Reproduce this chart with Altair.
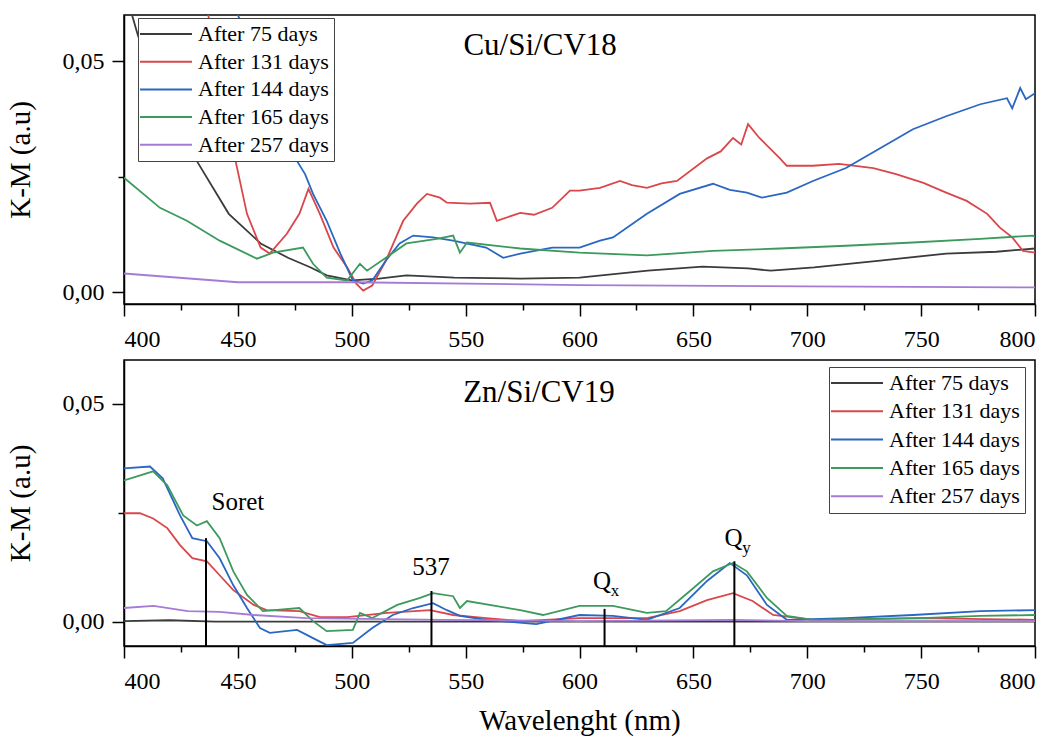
import altair as alt
import pandas as pd

FONT = "Liberation Serif, Times New Roman, serif"
SERIES = ["After 75 days", "After 131 days", "After 144 days", "After 165 days", "After 257 days"]
COLORS = ["#3b3b3b", "#d9474a", "#2a67c2", "#3d9a5e", "#a57bd6"]

# ---------------- Top panel: Cu/Si/CV18 ----------------
t_wl_75 = [400, 406, 412, 420, 432, 446, 460, 472, 482, 489, 500, 512, 524, 545, 574, 600, 630, 654, 674, 684, 703, 732, 761, 783, 800]
t_75 = [0.066, 0.0558, 0.047, 0.038, 0.0284, 0.017, 0.0106, 0.0075, 0.0054, 0.0037, 0.0026, 0.003, 0.0037, 0.0032, 0.003,
        0.0032, 0.0047, 0.0056, 0.0052, 0.0047, 0.0054, 0.0069, 0.0084, 0.0088, 0.0095]

t_wl_131 = [400, 420, 437, 449, 454, 460, 464, 471.5, 477, 481, 486, 492, 498, 502, 505, 509, 515, 522.6, 528.6, 533,
            538.7, 541.8, 552, 560.7, 563.7, 574, 580, 588, 595.8, 600, 609, 617.8, 623, 629.6, 636, 642.8, 656, 662,
            667.4, 671, 674, 679, 688, 691, 702.5, 714, 729, 739, 751, 761, 770, 779, 784.6, 790, 794.7, 800]
t_131 = [0.11, 0.085, 0.06, 0.0284, 0.017, 0.0097, 0.0084, 0.0127, 0.017, 0.0224, 0.017, 0.0097, 0.0054, 0.0019, 0.0004,
         0.0015, 0.0069, 0.0155, 0.0192, 0.0213, 0.0205, 0.0194, 0.0192, 0.0194, 0.0155, 0.0172, 0.0168, 0.0183, 0.022,
         0.022, 0.0226, 0.0241, 0.0232, 0.0226, 0.0236, 0.0241, 0.029, 0.0305, 0.0334, 0.032, 0.0364, 0.0334, 0.029,
         0.0274, 0.0274, 0.0278, 0.0269, 0.0256, 0.0237, 0.0216, 0.0198, 0.017, 0.014, 0.0119, 0.009, 0.0086]

t_wl_144 = [400, 430, 450, 476, 479.5, 483, 489, 495, 500.5, 505, 509, 515, 521, 527, 535.7, 544.5, 559, 566.5, 574, 588,
            600, 609, 614.7, 629.6, 644, 658.6, 666, 673.5, 680, 691, 702.5, 717, 732, 746.4, 761, 776, 787.7, 790,
            793.5, 796, 800]
t_144 = [0.12, 0.085, 0.06, 0.0284, 0.0256, 0.0213, 0.0155, 0.0084, 0.0026, 0.0019, 0.0026, 0.0069, 0.0106, 0.0123,
         0.0119, 0.0112, 0.0097, 0.0075, 0.0084, 0.0097, 0.0097, 0.0112, 0.0119, 0.017, 0.0213, 0.0235, 0.0222, 0.0216,
         0.0205, 0.0216, 0.0241, 0.0269, 0.0312, 0.0353, 0.0381, 0.0407, 0.042, 0.0398, 0.0442, 0.0418, 0.0431]

t_wl_165 = [400, 415.8, 427.6, 442, 458.4, 465.4, 478.6, 483, 489, 498, 503.6, 506.7, 515, 524, 537.4, 544.5, 547.5,
            550.6, 574, 600, 629.6, 658.6, 688, 717, 746.4, 776, 799, 800]
t_165 = [0.0248, 0.0183, 0.0155, 0.0112, 0.0073, 0.0086, 0.0097, 0.0062, 0.0032, 0.0026, 0.0062, 0.0047, 0.0075, 0.0106,
         0.0116, 0.0123, 0.0086, 0.0108, 0.0095, 0.0086, 0.008, 0.009, 0.0095, 0.0101, 0.0108, 0.0116, 0.0123, 0.012]

t_wl_257 = [400, 450, 500, 600, 700, 800]
t_257 = [0.0041, 0.0022, 0.0022, 0.0016, 0.0013, 0.0011]

# ---------------- Bottom panel: Zn/Si/CV19 ----------------
b_wl_75 = [400, 420, 440, 500, 600, 700, 800]
b_75 = [0.0002, 0.0004, 0.0001, 0.0001, 0.0001, 0.0001, 0.0001]

b_wl_131 = [400, 407, 412.8, 419, 424.6, 430, 436.4, 442, 448, 457, 462.6, 477, 486, 498, 515.5, 534.4, 544.5, 559, 574,
            600, 629.6, 644, 656, 667.4, 676, 685, 702.5, 750, 800]
b_131 = [0.0249, 0.0249, 0.0237, 0.0215, 0.0176, 0.0146, 0.0139, 0.0107, 0.0073, 0.0039, 0.0027, 0.0025, 0.0011, 0.0011,
         0.0021, 0.0027, 0.0016, 0.0009, 0.0002, 0.0009, 0.0009, 0.0025, 0.005, 0.0066, 0.0048, 0.0016, 0.0005, 0.0009,
         0.0005]

b_wl_144 = [400, 411.4, 417, 424.6, 430, 436.4, 442, 448, 454, 459.7, 464, 476, 483, 489, 500.5, 509, 518, 527, 535.7,
            541.8, 547.5, 559, 581, 600, 614.7, 629.6, 644, 656, 666, 673.5, 682.3, 691, 717, 746.4, 776, 800]
b_144 = [0.0352, 0.0356, 0.0329, 0.0244, 0.0192, 0.0185, 0.0146, 0.0084, 0.0032, -0.0014, -0.0025, -0.0018, -0.0037,
         -0.0053, -0.0048, -0.0014, 0.0016, 0.0032, 0.0043, 0.0027, 0.0014, 0.0005, -0.0005, 0.0016, 0.0014, 0.0005,
         0.0032, 0.0094, 0.0135, 0.0107, 0.0039, 0.0005, 0.0009, 0.0016, 0.0025, 0.0027]

b_wl_165 = [400, 412.8, 419, 426, 432, 436.4, 442, 448, 454, 461, 477, 483, 489, 500.5, 503.6, 509, 520, 530, 535.7,
            544.5, 547.5, 550.6, 574, 584, 600, 614.7, 629.6, 638, 648.5, 658.6, 667.4, 673.5, 682.3, 691, 702.5, 750,
            776, 800]
b_165 = [0.0324, 0.0345, 0.0313, 0.0244, 0.0221, 0.0231, 0.0192, 0.0116, 0.0062, 0.0025, 0.0032, 0.0002, -0.0021,
         -0.0018, 0.0021, 0.0009, 0.0039, 0.0055, 0.0066, 0.0059, 0.0032, 0.0048, 0.0027, 0.0016, 0.0037, 0.0037,
         0.0021, 0.0025, 0.0071, 0.0116, 0.0135, 0.0116, 0.0055, 0.0014, 0.0005, 0.0009, 0.0014, 0.0016]

b_wl_257 = [400, 413, 428, 442, 457, 480, 540, 600, 667, 700, 800]
b_257 = [0.0032, 0.0037, 0.0025, 0.0023, 0.0016, 0.0009, 0.0005, 0.0002, 0.0005, 0.0002, 0.0002]

# annotation markers (bottom panel)
marker_wl = [436, 535, 611, 668]
marker_top = [0.0192, 0.0071, 0.003, 0.0139]
ann_text = ["Soret", "537", "Q", "Q"]
ann_wl = [450, 534.8, 609.9, 667.6]
ann_val = [0.0275, 0.0127, 0.0094, 0.0192]
sub_text = ["x", "y"]
sub_wl = [609.9, 667.6]
sub_val = [0.0094, 0.0192]

# panel labels
panel_names = ["Cu/Si/CV18", "Zn/Si/CV19"]
panel_wl = [582.7, 582.2]
panel_val = [0.0532, 0.0525]

X_DOMAIN = [400, 800]
X_TICKS = list(range(400, 801, 25))
Y_TICKS = [0, 0.025, 0.05]
Y_DOM_TOP = [-0.0025, 0.06]
Y_DOM_BOT = [-0.0055, 0.06]


def long_df(pairs):
    rows = []
    for name, (wl, vals) in zip(SERIES, pairs):
        for w, v in zip(wl, vals):
            rows.append({"wl": w, "val": v, "series": name})
    return pd.DataFrame(rows)


top_df = long_df([(t_wl_75, t_75), (t_wl_131, t_131), (t_wl_144, t_144), (t_wl_165, t_165), (t_wl_257, t_257)])
bot_df = long_df([(b_wl_75, b_75), (b_wl_131, b_131), (b_wl_144, b_144), (b_wl_165, b_165), (b_wl_257, b_257)])


def x_enc(title):
    kw = dict(
        values=X_TICKS,
        labelExpr="datum.value % 50 === 0 ? datum.label : ''",
        tickSize={"condition": {"test": "datum.value % 50 !== 0", "value": 6}, "value": 12},
        labelPadding=11,
        titlePadding=13,
        labelFont=FONT,
        labelFontSize=24,
        titleFont=FONT,
        titleFontSize=29,
    )
    if title:
        axis = alt.Axis(title=title, **kw)
    else:
        axis = alt.Axis(title=None, **kw)
    return alt.X("wl:Q", scale=alt.Scale(domain=X_DOMAIN, nice=False, zero=False), axis=axis)


def y_enc(dom):
    axis = alt.Axis(
        title="K-M (a.u)",
        values=Y_TICKS,
        labelExpr="datum.value == 0.025 ? '' : replace(format(datum.value, '.2f'), '.', ',')",
        tickSize={"condition": {"test": "datum.value == 0.025", "value": 6}, "value": 12},
        labelPadding=8,
        titlePadding=27,
        labelFont=FONT,
        labelFontSize=24,
        titleFont=FONT,
        titleFontSize=29,
    )
    return alt.Y("val:Q", scale=alt.Scale(domain=dom, nice=False, zero=False), axis=axis)


def lines(df, dom, xtitle, lx, ly, rowpad):
    return alt.Chart(df).mark_line(clip=True, strokeWidth=1.8).encode(
        x=x_enc(xtitle),
        y=y_enc(dom),
        color=alt.Color(
            "series:N",
            scale=alt.Scale(domain=SERIES, range=COLORS),
            legend=alt.Legend(
                title=None,
                orient="none",
                legendX=lx,
                legendY=ly,
                symbolType="M-1.4,0H3.8",
                symbolSize=400,
                symbolStrokeWidth=2,
                symbolOffset=0,
                labelFont=FONT,
                labelFontSize=22,
                labelColor="black",
                labelOffset=33,
                rowPadding=rowpad,
                padding=5,
                strokeColor="#444444",
                fillColor="white",
                cornerRadius=0,
            ),
        ),
    )


def panel_label(i, dom, xtitle):
    df = pd.DataFrame({"wl": [panel_wl[i]], "val": [panel_val[i]], "t": [panel_names[i]]})
    return alt.Chart(df).mark_text(font=FONT, fontSize=31, color="black", baseline="middle", align="center").encode(
        x=x_enc(xtitle), y=y_enc(dom), text="t:N"
    )


top = alt.layer(
    lines(top_df, Y_DOM_TOP, None, 14, 3, 5.7),
    panel_label(0, Y_DOM_TOP, None),
).properties(width=911, height=289)

mk_df = pd.DataFrame({"wl": marker_wl, "val": marker_top})
rules = alt.Chart(mk_df).mark_rule(color="black", strokeWidth=2).encode(
    x=x_enc("Wavelenght (nm)"), y=y_enc(Y_DOM_BOT), y2=alt.datum(Y_DOM_BOT[0])
)
ann_df = pd.DataFrame({"wl": ann_wl, "val": ann_val, "t": ann_text})
anns = alt.Chart(ann_df).mark_text(font=FONT, fontSize=25, color="black", baseline="middle", align="center").encode(
    x=x_enc("Wavelenght (nm)"), y=y_enc(Y_DOM_BOT), text="t:N"
)
sub_df = pd.DataFrame({"wl": sub_wl, "val": sub_val, "t": sub_text})
subs = alt.Chart(sub_df).mark_text(font=FONT, fontSize=17, color="black", baseline="middle", align="center",
                                   dx=13, dy=10).encode(
    x=x_enc("Wavelenght (nm)"), y=y_enc(Y_DOM_BOT), text="t:N"
)

bottom = alt.layer(
    lines(bot_df, Y_DOM_BOT, "Wavelenght (nm)", 705, 7, 6.3),
    rules,
    anns,
    subs,
    panel_label(1, Y_DOM_BOT, "Wavelenght (nm)"),
).properties(width=911, height=286)

chart = (
    alt.vconcat(top, bottom, spacing=7)
    .resolve_scale(color="independent")
    .resolve_legend(color="independent")
    .properties(padding={"left": 5, "top": 14, "right": 5, "bottom": 5}, background="white")
    .configure(font=FONT)
    .configure_view(stroke="black", strokeWidth=1.5)
    .configure_axis(
        domainColor="black",
        domainWidth=1.5,
        tickColor="black",
        tickWidth=1.5,
        grid=False,
        labelFont=FONT,
        labelFontSize=24,
        labelColor="black",
        titleFont=FONT,
        titleFontSize=29,
        titleFontWeight="normal",
        titleColor="black",
    )
)

chart.save("out.html", embed_options={"renderer": "svg", "actions": False})
